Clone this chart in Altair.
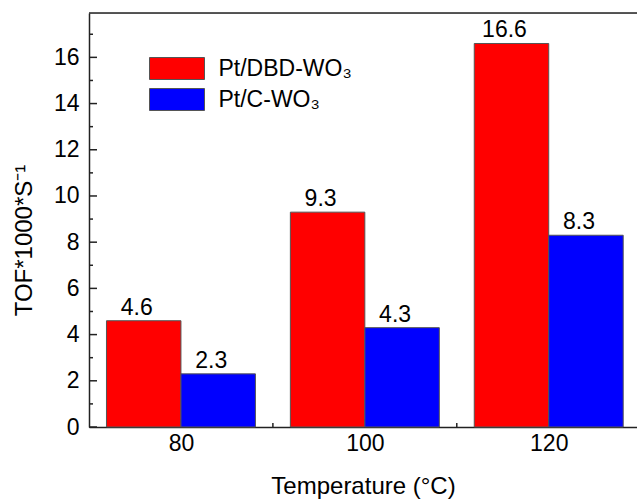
import altair as alt
import pandas as pd

temps = [80, 100, 120]
series_names = ["Pt/DBD-WO₃", "Pt/C-WO₃"]
dbd_values = [4.6, 9.3, 16.6]
cwo_values = [2.3, 4.3, 8.3]
colors = ["#FF0000", "#0000FF"]
y_major = [0, 2, 4, 6, 8, 10, 12, 14, 16]
y_minor = [1, 3, 5, 7, 9, 11, 13, 15, 17]
x_major = [80, 100, 120]
x_minor = [90, 110]

W, H = 548, 414
BAR = 8.1
FONT = "Liberation Sans"

rows = []
for t, v in zip(temps, dbd_values):
    rows.append({"temp": t, "series": series_names[0], "side": 0, "value": v})
for t, v in zip(temps, cwo_values):
    rows.append({"temp": t, "series": series_names[1], "side": 1, "value": v})
df = pd.DataFrame(rows)

xscale = alt.Scale(domain=[70, 129.6], nice=False, zero=False)
yscale = alt.Scale(domain=[0, 17.92], nice=False, zero=True)

base = alt.Chart(df).transform_calculate(
    x0=f"datum.side == 0 ? datum.temp - {BAR} : datum.temp",
    x1=f"datum.side == 0 ? datum.temp : datum.temp + {BAR}",
)

bars = base.mark_bar(stroke="#555555", strokeWidth=1).encode(
    x=alt.X("x0:Q", scale=xscale,
            axis=alt.Axis(values=x_major, title="Temperature (°C)", ticks=False,
                          grid=False, labelFontSize=23, labelFont=FONT,
                          labelPadding=5, labelColor="black",
                          domainColor="#222222", domainWidth=1.5,
                          titleFont=FONT, titleFontSize=24, titleFontWeight="normal",
                          titleColor="black", titleBaseline="alphabetic",
                          titleY=66)),
    x2="x1:Q",
    y=alt.Y("value:Q", scale=yscale,
            axis=alt.Axis(values=y_major, title="TOF*1000*S⁻¹", ticks=False,
                          grid=False, labelFontSize=23, labelFont=FONT,
                          labelPadding=10, labelColor="black",
                          domainColor="#222222", domainWidth=1.5,
                          titleFont=FONT, titleFontSize=24, titleFontWeight="normal",
                          titleColor="black", titleAngle=270,
                          titleAlign="center", titleBaseline="middle",
                          titleX=-65, titleY=227)),
    y2=alt.datum(0),
    color=alt.Color("series:N", scale=alt.Scale(domain=series_names, range=colors),
                    legend=alt.Legend(title=None, orient="none", legendX=76.5, legendY=44,
                                      symbolType="M-2.5,-1.0H2.5V1.0H-2.5Z",
                                      symbolSize=484, symbolStrokeColor="#555555",
                                      symbolStrokeWidth=1, labelFont=FONT,
                                      labelFontSize=23, labelColor="black",
                                      labelOffset=30, rowPadding=4, padding=0)),
)

labels = base.mark_text(font=FONT, fontSize=23, baseline="alphabetic",
                        align="center", dy=-6, dx=-7, color="black").encode(
    x=alt.X("xm:Q", scale=xscale),
    y=alt.Y("value:Q", scale=yscale),
    text=alt.Text("value:Q", format=".1f"),
).transform_calculate(xm="(datum.x0 + datum.x1) / 2")

ymaj = alt.Chart(pd.DataFrame({"v": y_major})).mark_rule(color="#222222", strokeWidth=1.5).encode(
    y=alt.Y("v:Q", scale=yscale), x=alt.value(0), x2=alt.value(8))
ymin = alt.Chart(pd.DataFrame({"v": y_minor})).mark_rule(color="#222222", strokeWidth=1.5).encode(
    y=alt.Y("v:Q", scale=yscale), x=alt.value(0), x2=alt.value(4))
xmaj = alt.Chart(pd.DataFrame({"v": x_major})).mark_rule(color="#222222", strokeWidth=1.5).encode(
    x=alt.X("v:Q", scale=xscale), y=alt.value(H), y2=alt.value(H - 8))
xmin = alt.Chart(pd.DataFrame({"v": x_minor})).mark_rule(color="#222222", strokeWidth=1.5).encode(
    x=alt.X("v:Q", scale=xscale), y=alt.value(H), y2=alt.value(H - 4))
top = alt.Chart(pd.DataFrame({"v": [0]})).mark_rule(color="#222222", strokeWidth=1.5).encode(
    y=alt.value(0), x=alt.value(0), x2=alt.value(W))

chart = alt.layer(ymaj, ymin, xmaj, xmin, bars, labels, top).properties(
    width=W, height=H,
    autosize=alt.AutoSizeParams(type="none"),
    padding={"left": 89, "top": 13, "right": 0, "bottom": 72},
).configure_view(stroke=None).configure(background="white")

chart.save("out.html", embed_options={"renderer": "svg", "actions": False})
